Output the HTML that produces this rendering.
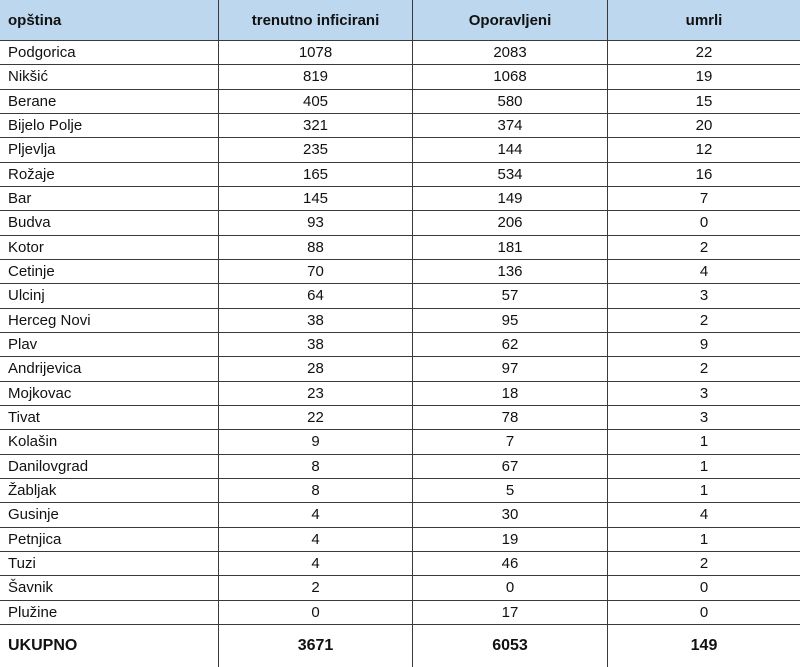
<!DOCTYPE html>
<html><head><meta charset="utf-8"><style>
body{margin:0;width:800px;height:667px;overflow:hidden;background:#fff;}
.g{display:grid;width:800px;height:667px;grid-template-columns:218px 193px 194px 192px;grid-template-rows:40px repeat(24,23.33px) 42px;gap:1px;background:#3a3a3a;font-family:"Liberation Sans",sans-serif;font-size:15px;color:#111;}
.g div{background:#fff;display:flex;align-items:center;justify-content:center;white-space:nowrap;}
.g div.l{justify-content:flex-start;padding-left:8px;}
.g div.h{background:#bdd7ee;font-weight:bold;}
.g div.t{font-weight:bold;font-size:16px;}
</style></head><body>
<div class="g">
<div class="h l">opština</div><div class="h">trenutno inficirani</div><div class="h">Oporavljeni</div><div class="h">umrli</div>
<div class="l">Podgorica</div><div>1078</div><div>2083</div><div>22</div>
<div class="l">Nikšić</div><div>819</div><div>1068</div><div>19</div>
<div class="l">Berane</div><div>405</div><div>580</div><div>15</div>
<div class="l">Bijelo Polje</div><div>321</div><div>374</div><div>20</div>
<div class="l">Pljevlja</div><div>235</div><div>144</div><div>12</div>
<div class="l">Rožaje</div><div>165</div><div>534</div><div>16</div>
<div class="l">Bar</div><div>145</div><div>149</div><div>7</div>
<div class="l">Budva</div><div>93</div><div>206</div><div>0</div>
<div class="l">Kotor</div><div>88</div><div>181</div><div>2</div>
<div class="l">Cetinje</div><div>70</div><div>136</div><div>4</div>
<div class="l">Ulcinj</div><div>64</div><div>57</div><div>3</div>
<div class="l">Herceg Novi</div><div>38</div><div>95</div><div>2</div>
<div class="l">Plav</div><div>38</div><div>62</div><div>9</div>
<div class="l">Andrijevica</div><div>28</div><div>97</div><div>2</div>
<div class="l">Mojkovac</div><div>23</div><div>18</div><div>3</div>
<div class="l">Tivat</div><div>22</div><div>78</div><div>3</div>
<div class="l">Kolašin</div><div>9</div><div>7</div><div>1</div>
<div class="l">Danilovgrad</div><div>8</div><div>67</div><div>1</div>
<div class="l">Žabljak</div><div>8</div><div>5</div><div>1</div>
<div class="l">Gusinje</div><div>4</div><div>30</div><div>4</div>
<div class="l">Petnjica</div><div>4</div><div>19</div><div>1</div>
<div class="l">Tuzi</div><div>4</div><div>46</div><div>2</div>
<div class="l">Šavnik</div><div>2</div><div>0</div><div>0</div>
<div class="l">Plužine</div><div>0</div><div>17</div><div>0</div>
<div class="l t">UKUPNO</div><div class="t">3671</div><div class="t">6053</div><div class="t">149</div>
</div>
</body></html>
